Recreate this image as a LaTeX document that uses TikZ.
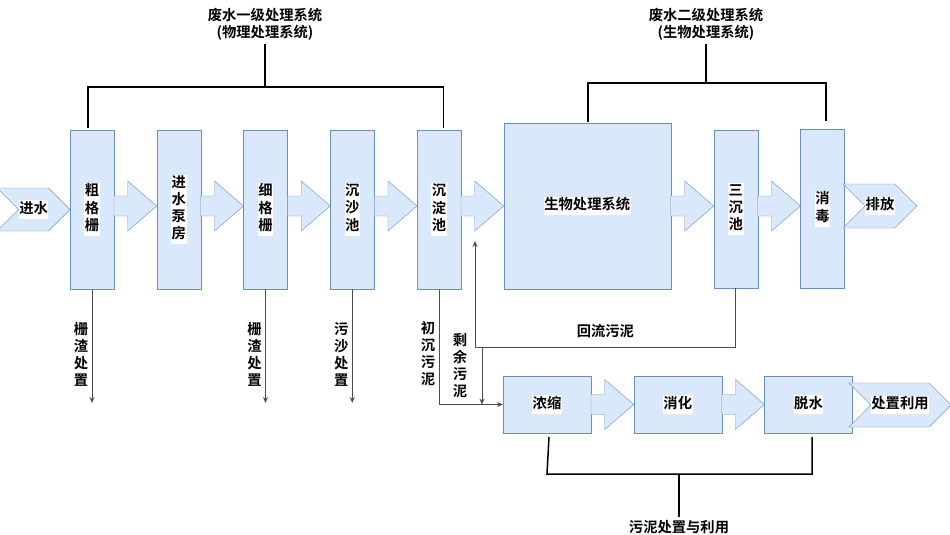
\documentclass[tikz,border=0pt]{standalone}
\usepackage{fontspec}
\newfontfamily\cjk{Noto Sans CJK SC}[BoldFont={Noto Sans CJK SC Bold}]
\usepackage{tikz}
\newcommand{\boxwidth}{44pt}
\newcommand{\boxheight}{159pt}
\newcommand{\gap}{42.75pt}
\definecolor{boxBlue}{HTML}{DAE8FC}
\definecolor{boxLine}{HTML}{6C8EBF}
\definecolor{lineGray}{HTML}{4D4D4D}
\usetikzlibrary{arrows.meta,calc,positioning,shapes.symbols}
\setlength{\fboxsep}{0.6pt}
\newcommand{\lbl}[1]{\colorbox{white}{\begin{tabular}{@{}c@{}}#1\end{tabular}}}
\newcommand{\fatarrow}[3][0]{%
  \draw[fat] ($(#2.east)+(0,#1-10)$) -- ($(#3.west|-#2.east)+(-29,#1-10)$) -- ++(0,-15)
    -- ($(#3.west|-#2.east)+(0,#1)$) -- ++(-29,25) -- ++(0,-15) -- ($(#2.east)+(0,#1+10)$) -- cycle;}
\tikzset{
  x=1pt,y=-1pt,
  font=\cjk\bfseries\fontsize{14.3}{17}\selectfont,
  tall/.style={draw=boxLine,fill=boxBlue,minimum width=\boxwidth,minimum height=\boxheight,inner sep=0,outer sep=0},
  wide/.style={draw=boxLine,fill=boxBlue,minimum width=88pt,minimum height=57pt,inner sep=0,outer sep=0},
  chevron/.style={draw=boxLine,fill=boxBlue,shape=signal,signal from=west,signal to=east,inner sep=0,outer sep=0},
  fat/.style={draw=boxLine,fill=boxBlue},
  flow/.style={draw=lineGray,line width=1pt,-{Stealth[length=6pt,width=5pt]}},
  bracket/.style={draw=black,line width=1.5pt},
  side/.style={align=center},
}
\begin{document}
\begin{tikzpicture}
  \useasboundingbox (0,0) rectangle (950,535);
  \node (cg) [tall] at (92,209.5) {\lbl{粗\\格\\栅}};
  \node (bf) [tall,right=\gap of cg] {\lbl{进\\水\\泵\\房}};
  \node (xg) [tall,right=\gap of bf] {\lbl{细\\格\\栅}};
  \node (cs) [tall,right=\gap of xg] {\lbl{沉\\沙\\池}};
  \node (cd) [tall,right=\gap of cs] {\lbl{沉\\淀\\池}};
  \node (sw) [tall,minimum width=167pt,minimum height=166pt,right=\gap of cd,yshift=3.5pt] {\lbl{生物处理系统}};
  \node (sc) [tall,minimum height=158pt,right=43pt of sw,yshift=-3pt] {\lbl{三\\沉\\池}};
  \node (xd) [tall,right=\gap of sc] {\lbl{消\\毒}};
  \node (js) [chevron,minimum width=70pt,minimum height=43pt,left=0pt of cg] {\lbl{进水}};
  \node (pf) [chevron,minimum width=73pt,minimum height=44pt] at (880,206) {\lbl{排放}};
  \node (nn) [wide] at (547,404.5) {\lbl{浓缩}};
  \node (xh) [wide,right=\gap of nn] {\lbl{消化}};
  \node (ts) [wide,right=\gap of xh] {\lbl{脱水}};
  \node (cy) [chevron,minimum width=98pt,minimum height=44pt] at (900,405) {\lbl{处置利用}};
  \fatarrow[-3.5]{cg}{bf}
  \fatarrow[-3.5]{bf}{xg}
  \fatarrow[-3.5]{xg}{cs}
  \fatarrow[-3.5]{cs}{cd}
  \fatarrow[-3.5]{cd}{sw}
  \fatarrow{sw}{sc}
  \fatarrow[-3]{sc}{xd}
  \fatarrow{nn}{xh}
  \fatarrow{xh}{ts}
  \node (t1) [align=center] at (265,24.5) {废水一级处理系统\\(物理处理系统)};
  \node (t2) [align=center] at (706,24.5) {废水二级处理系统\\(生物处理系统)};
  \node (t3) at (679,527) {污泥处置与利用};
  \draw[bracket] ($(cg.north)+(-4,-2)$) -- ++(0,-41) -| ($(cd.north)+(4.5,-2)$);
  \draw[bracket] (t1.south) -- (t1.south|-0,87);
  \draw[bracket] ($(sw.north)+(0.5,-1)$) -- ++(0,-39) -| ($(xd.north)+(3.5,-9)$);
  \draw[bracket] (t2.south) -- (t2.south|-0,83);
  \draw[bracket] ($(nn.south)+(2,4)$) -- (nn.south|-0,474) -| ($(ts.south)+(3.5,4)$);
  \draw[bracket] (t3.north) -- (t3.north|-0,474);
  \draw[flow] (cg.south) -- ++(0,114) node[side,pos=0.57,left] (l1) {栅\\渣\\处\\置};
  \draw[flow] (xg.south) -- ++(0,114) node[side,pos=0.57,left] (l2) {栅\\渣\\处\\置};
  \draw[flow] (cs.south) -- ++(0,114) node[side,pos=0.57,left] (l3) {污\\沙\\处\\置};
  \draw[flow] (cd.south) |- (nn.west) node[side,pos=0.28,left] (l4) {初\\沉\\污\\泥};
  \coordinate (rt) at (475,241);
  \draw[flow] (sc.south) -- (sc.south|-0,347) -- node[above,yshift=5pt] (l5) {回流污泥} (rt|-0,347) -- (rt);
  \coordinate (sy) at (482,347);
  \draw[flow] (sy) -- (sy|-nn.west);
  \node (l6) [side] at (460,366) {剩\\余\\污\\泥};
\end{tikzpicture}
\end{document}
